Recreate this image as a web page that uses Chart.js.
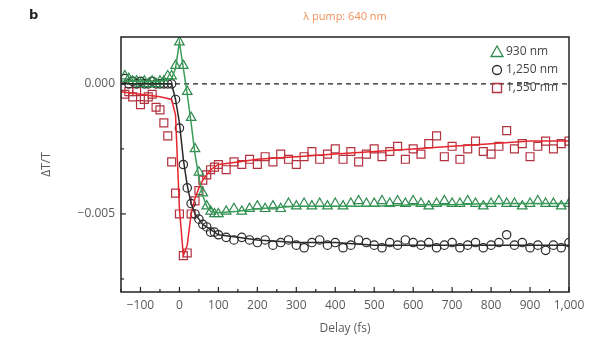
<!DOCTYPE html>
<html>
<head>
<meta charset="utf-8">
<script src="https://cdn.jsdelivr.net/npm/chart.js@4.4.1/dist/chart.umd.min.js"></script>
<style>
  html, body { margin: 0; padding: 0; background: #fff; }
  canvas { display: block; }
</style>
</head>
<body>
<canvas id="chart" width="596" height="339"></canvas>
<script>
// measured delays (fs)
var delays = [-140, -130, -120, -110, -100, -90, -80, -70, -60, -50, -40, -30, -20, -10,
  0, 10, 20, 30, 40, 50, 60, 70, 80, 90, 100,
  120, 140, 160, 180, 200, 220, 240, 260, 280, 300, 320, 340, 360, 380, 400,
  420, 440, 460, 480, 500, 520, 540, 560, 580, 600, 620, 640, 660, 680, 700,
  720, 740, 760, 780, 800, 820, 840, 860, 880, 900, 920, 940, 960, 980, 1000];

// dT/T data points
var nm930 = [0.0003, 0.0002, 0.0001, 0.0001, 0.0000, 0.0001, 0.0000, 0.0001, 0.0000, 0.0001, 0.0001, 0.0003, 0.0003, 0.0007,
  0.0016, 0.0007, -0.0003, -0.0013, -0.0025, -0.0034, -0.0042, -0.0047, -0.0049, -0.0050, -0.0050,
  -0.0049, -0.0048, -0.0049, -0.0048, -0.0047, -0.0048, -0.0047, -0.0048, -0.0046, -0.0047, -0.0046, -0.0047, -0.0046, -0.0047, -0.0046,
  -0.0047, -0.0046, -0.0045, -0.0046, -0.0046, -0.0045, -0.0046, -0.0045, -0.0046, -0.0045, -0.0046, -0.0047, -0.0046, -0.0045, -0.0046,
  -0.0046, -0.0045, -0.0046, -0.0047, -0.0046, -0.0045, -0.0046, -0.0046, -0.0047, -0.0046, -0.0045, -0.0046, -0.0046, -0.0047, -0.0046];

var nm1250 = [0.0002, 0.0000, 0.0001, 0.0000, 0.0001, 0.0000, 0.0000, 0.0001, 0.0000, 0.0000, 0.0000, 0.0000, 0.0000, -0.0006,
  -0.0017, -0.0031, -0.0040, -0.0046, -0.0050, -0.0052, -0.0054, -0.0055, -0.0057, -0.0057, -0.0058,
  -0.0059, -0.0060, -0.0059, -0.0060, -0.0061, -0.0060, -0.0062, -0.0061, -0.0060, -0.0062, -0.0063, -0.0061, -0.0060, -0.0062, -0.0061,
  -0.0063, -0.0062, -0.0060, -0.0061, -0.0062, -0.0063, -0.0061, -0.0062, -0.0060, -0.0061, -0.0062, -0.0061, -0.0063, -0.0062, -0.0061,
  -0.0063, -0.0062, -0.0061, -0.0063, -0.0062, -0.0061, -0.0058, -0.0062, -0.0061, -0.0063, -0.0062, -0.0064, -0.0062, -0.0063, -0.0061];

var nm1550 = [-0.0004, -0.0003, -0.0005, -0.0003, -0.0008, -0.0006, -0.0005, -0.0004, -0.0009, -0.0010, -0.0015, -0.0020, -0.0030, -0.0042,
  -0.0050, -0.0066, -0.0065, -0.0050, -0.0045, -0.0041, -0.0037, -0.0035, -0.0033, -0.0032, -0.0031,
  -0.0033, -0.0030, -0.0031, -0.0029, -0.0031, -0.0028, -0.0030, -0.0027, -0.0029, -0.0031, -0.0028, -0.0026, -0.0029, -0.0027, -0.0025,
  -0.0029, -0.0026, -0.0030, -0.0027, -0.0025, -0.0028, -0.0026, -0.0024, -0.0029, -0.0025, -0.0027, -0.0023, -0.0020, -0.0028, -0.0024,
  -0.0029, -0.0025, -0.0022, -0.0026, -0.0027, -0.0024, -0.0018, -0.0025, -0.0023, -0.0028, -0.0024, -0.0022, -0.0025, -0.0023, -0.0022];

// fitted curves
var fitDelays = [-150, -100, -50, -20, -10, 0, 10, 20, 30, 40, 50, 60, 70, 80, 100, 150, 200, 300, 400, 500, 600, 700, 800, 900, 1000];
var fit930 = [0.0001, 0.0001, 0.0001, 0.0002, 0.0006, 0.0016, 0.0006, -0.0004, -0.0015, -0.0027, -0.0036, -0.0043, -0.0047, -0.0049, -0.00495,
  -0.0049, -0.0048, -0.0047, -0.0047, -0.0047, -0.00465, -0.00465, -0.0046, -0.0046, -0.0046];
var fit1250 = [0.0000, 0.0000, 0.0000, 0.0000, -0.0006, -0.0015, -0.0029, -0.0039, -0.0046, -0.0050, -0.0052, -0.0054, -0.0055, -0.0056, -0.0058,
  -0.0059, -0.0060, -0.0061, -0.0061, -0.0062, -0.0062, -0.0062, -0.0062, -0.0062, -0.0062];
var fit1550 = [-0.0003, -0.0004, -0.0005, -0.0006, -0.0012, -0.0048, -0.0066, -0.0062, -0.0050, -0.0044, -0.0040, -0.0037, -0.0035, -0.0033, -0.0031,
  -0.0030, -0.0029, -0.0028, -0.0027, -0.0026, -0.0025, -0.0024, -0.0023, -0.0022, -0.0022];

var zeroX = [-150, 1000];
var zeroY = [0, 0];

var xTickValues = [-150, -100, -50, 0, 50, 100, 150, 200, 250, 300, 350, 400, 450, 500, 550, 600, 650, 700, 750, 800, 850, 900, 950, 1000];
var yTickValues = [-0.0075, -0.005, -0.0025, 0];

var GREEN = '#2f8a4f', GREEN_LINE = '#3a9d57';
var BLACK = '#2a2a2a';
var RED = '#b2323f', RED_LINE = '#e5262d';

function pts(xs, ys) {
    return xs.map(function (x, i) { return { x: x, y: ys[i] }; });
}

function markerSet(label, ys, color, style, r) {
    return {
        label: label, data: pts(delays, ys), showLine: false,
        pointStyle: style, pointRadius: r, pointBorderWidth: 1.2,
        borderColor: color, backgroundColor: 'rgba(0,0,0,0)', order: 2
    };
}

function fitSet(ys, color) {
    return {
        label: '', data: pts(fitDelays, ys), showLine: true, pointRadius: 0,
        borderColor: color, borderWidth: 1.5, tension: 0, order: 1
    };
}

function drawSymbol(ctx, style, x, y, color) {
    ctx.save();
    ctx.strokeStyle = color;
    ctx.lineWidth = 1.3;
    ctx.beginPath();
    if (style === 'triangle') {
        ctx.moveTo(x, y - 6);
        ctx.lineTo(x + 6, y + 4.5);
        ctx.lineTo(x - 6, y + 4.5);
        ctx.closePath();
    } else if (style === 'circle') {
        ctx.arc(x, y, 4.5, 0, Math.PI * 2);
    } else {
        ctx.rect(x - 4.5, y - 4.5, 9, 9);
    }
    ctx.stroke();
    ctx.restore();
}

var decor = {
    id: 'decor',
    afterDraw: function (chart) {
        var ctx = chart.ctx, a = chart.chartArea;
        var xs = chart.scales.x, ys = chart.scales.y;
        ctx.save();
        // frame
        ctx.strokeStyle = '#222';
        ctx.lineWidth = 1.5;
        ctx.strokeRect(a.left, a.top, a.right - a.left, a.bottom - a.top);
        // inward ticks
        ctx.lineWidth = 1.2;
        xs.ticks.forEach(function (t) {
            var px = xs.getPixelForValue(t.value);
            var len = (t.value % 100 === 0) ? 5 : 3;
            ctx.beginPath();
            ctx.moveTo(px, a.bottom);
            ctx.lineTo(px, a.bottom - len);
            ctx.stroke();
        });
        ys.ticks.forEach(function (t) {
            var py = ys.getPixelForValue(t.value);
            var major = Math.abs(Math.round(t.value / 0.005) * 0.005 - t.value) < 1e-9;
            ctx.beginPath();
            ctx.moveTo(a.left, py);
            ctx.lineTo(a.left + (major ? 5 : 3), py);
            ctx.stroke();
        });
        // panel letter and pump label
        ctx.fillStyle = '#222';
        ctx.font = 'bold 13px "DejaVu Sans", sans-serif';
        ctx.textBaseline = 'middle';
        ctx.textAlign = 'left';
        ctx.fillText('b', 29, 16);
        ctx.fillStyle = '#f0915a';
        ctx.font = '11px "Open Sans", sans-serif';
        ctx.textAlign = 'center';
        ctx.fillText('\u03BB pump: 640 nm', (a.left + a.right) / 2, 17);
        // legend
        ctx.font = '12px "Open Sans", sans-serif';
        ctx.textAlign = 'left';
        var items = chart.data.datasets.filter(function (d) { return d.showLine === false; });
        items.forEach(function (d, i) {
            var y = a.top + 15 + i * 18;
            drawSymbol(ctx, d.pointStyle, a.right - 72, y, d.borderColor);
            ctx.fillStyle = '#444';
            ctx.fillText(d.label, a.right - 63, y);
        });
        ctx.restore();
    }
};

Chart.defaults.font.family = '"Open Sans", sans-serif';
Chart.defaults.color = '#5a5a5a';

new Chart(document.getElementById('chart'), {
    type: 'scatter',
    data: {
        datasets: [
            markerSet('930 nm', nm930, GREEN, 'triangle', 5.5),
            markerSet('1,250 nm', nm1250, BLACK, 'circle', 4.2),
            markerSet('1,550 nm', nm1550, RED, 'rect', 5.6),
            fitSet(fit930, GREEN_LINE),
            fitSet(fit1250, BLACK),
            fitSet(fit1550, RED_LINE),
            {
                label: '', data: pts(zeroX, zeroY), showLine: true, pointRadius: 0,
                borderColor: '#222', borderWidth: 1.2, borderDash: [5, 4], order: 3
            }
        ]
    },
    options: {
        responsive: false,
        animation: false,
        layout: { padding: { left: 0, right: 27, top: 37, bottom: 0 } },
        plugins: { legend: { display: false }, tooltip: { enabled: false } },
        scales: {
            x: {
                type: 'linear', min: -150, max: 1000,
                grid: { display: false, drawTicks: false },
                border: { display: false },
                afterBuildTicks: function (s) { s.ticks = xTickValues.map(function (v) { return { value: v }; }); },
                afterFit: function (s) { s.height = 47; },
                ticks: {
                    padding: 6, maxRotation: 0, autoSkip: false,
                    font: { size: 12 },
                    callback: function (v) {
                        if (v % 100 !== 0) return '';
                        return v.toLocaleString('en-US').replace('-', '\u2212');
                    }
                },
                title: { display: true, text: 'Delay (fs)', font: { size: 12 }, padding: { top: 2, bottom: 3 } }
            },
            y: {
                type: 'linear', min: -0.008, max: 0.0018,
                grid: { display: false, drawTicks: false },
                border: { display: false },
                afterBuildTicks: function (s) { s.ticks = yTickValues.map(function (v) { return { value: v }; }); },
                afterFit: function (s) { s.width = 121; },
                ticks: {
                    padding: 6, autoSkip: false,
                    font: { size: 12 },
                    callback: function (v) {
                        if (Math.abs(v) < 1e-9) return '0.000';
                        if (Math.abs(v + 0.005) < 1e-9) return '\u22120.005';
                        return '';
                    }
                },
                title: { display: true, text: '\u0394T/T', font: { size: 12 }, padding: { top: 39, bottom: 0 } }
            }
        }
    },
    plugins: [decor]
});
</script>
</body>
</html>
